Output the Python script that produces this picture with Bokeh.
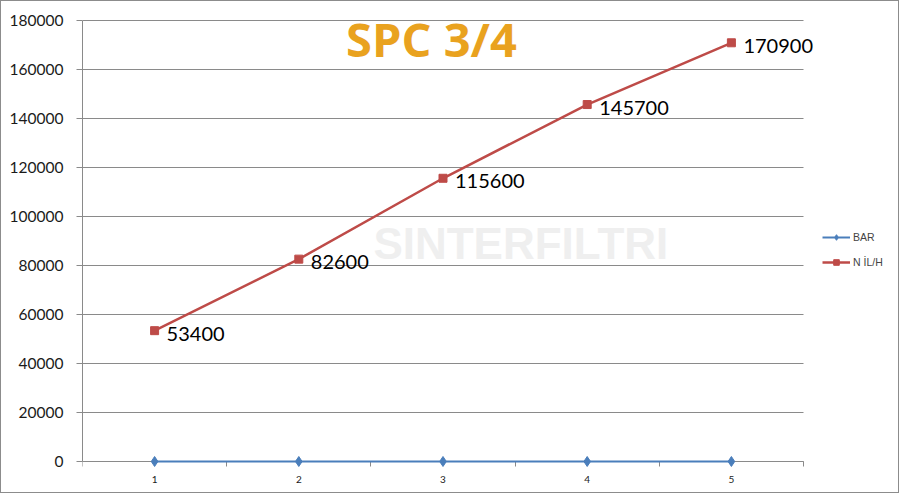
from bokeh.plotting import figure
from bokeh.models import (Legend, LegendItem, Label, FixedTicker,
                          BasicTickFormatter, Range1d, ColumnDataSource)
from bokeh.core.properties import value
from bokeh.embed import file_html
from bokeh.resources import INLINE

# ---- data ----
categories = [1, 2, 3, 4, 5]
bar_values = [1, 2, 3, 4, 5]
nlh_values = [53400, 82600, 115600, 145700, 170900]
y_ticks = [0, 20000, 40000, 60000, 80000, 100000, 120000, 140000, 160000, 180000]
title_text = "SPC 3/4"
series_names = ["BAR", "N İL/H"]

RED = "#BE4B48"
BLUE = "#4A7EBB"
GRID = "#8A8A8A"

# ---- geometry (pixels) ----
W, H = 899, 493
ML, MT, MB, MR = 81, 11, 6, 4
FRAME_W = W - ML - MR
FRAME_H = H - MT - MB
PX_PER_CAT = 144.2
PLOT_H = 441.0           # pixels between 0 and top tick
y_per_px = y_ticks[-1] / PLOT_H
x_lo = categories[0] - 0.5
x_hi = categories[-1] + 0.5
y_top_pad = 8
y_bot_pad = FRAME_H - PLOT_H - y_top_pad

p = figure(width=W, height=H, output_backend="svg", toolbar_location=None,
           x_range=Range1d(x_lo, x_lo + FRAME_W / PX_PER_CAT),
           y_range=Range1d(-y_bot_pad * y_per_px, y_ticks[-1] + y_top_pad * y_per_px),
           min_border_left=ML, min_border_right=MR, min_border_top=MT, min_border_bottom=MB)
p.styles = {"border": "1px solid #8c8c8c"}
p.outline_line_color = None
p.background_fill_color = "white"
p.border_fill_color = "white"
p.xgrid.visible = False
p.ygrid.visible = False

# watermark
p.add_layout(Label(x=3.54, y=89000, text="SINTERFILTRI", text_align="center",
                   text_baseline="middle", text_font="Liberation Sans",
                   text_font_style="bold", text_font_size="44px", text_color="#EFEFEF"))

# horizontal gridlines limited to the category span
p.segment(x0=[x_lo] * len(y_ticks), x1=[x_hi] * len(y_ticks), y0=y_ticks, y1=y_ticks,
          line_color=GRID, line_width=1, level="underlay")

# axes
p.yaxis.ticker = FixedTicker(ticks=y_ticks)
p.yaxis.bounds = (y_ticks[0], y_ticks[-1])
p.yaxis.formatter = BasicTickFormatter(use_scientific=False)
p.yaxis.axis_line_color = GRID
p.yaxis.major_tick_line_color = GRID
p.yaxis.major_tick_in = 0
p.yaxis.major_tick_out = 6
p.yaxis.minor_tick_line_color = None
p.yaxis.major_label_text_font = "Lato"
p.yaxis.major_label_text_font_size = "15.5px"
p.yaxis.major_label_text_color = "#1a1a1a"
p.yaxis.major_label_standoff = 13

p.xaxis.fixed_location = 0
p.xaxis.bounds = (x_lo, x_hi)
p.xaxis.ticker = FixedTicker(ticks=categories,
                             minor_ticks=[c - 0.5 for c in categories] + [x_hi])
p.xaxis.axis_line_color = GRID
p.xaxis.major_tick_line_color = None
p.xaxis.major_tick_in = 0
p.xaxis.major_tick_out = 0
p.xaxis.minor_tick_line_color = GRID
p.xaxis.minor_tick_in = 0
p.xaxis.minor_tick_out = 5
p.xaxis.major_label_text_font = "Lato"
p.xaxis.major_label_text_font_size = "10px"
p.xaxis.major_label_text_color = "#1a1a1a"
p.xaxis.major_label_standoff = 9

src = ColumnDataSource(dict(x=categories, bar=bar_values, nlh=nlh_values,
                            lbl=[str(v) for v in nlh_values]))

l_nlh = p.line("x", "nlh", source=src, line_color=RED, line_width=2.5)
m_nlh = p.scatter("x", "nlh", source=src, marker="square", size=8,
                  fill_color=RED, line_color=RED)
l_bar = p.line("x", "bar", source=src, line_color=BLUE, line_width=2, level="overlay")
m_bar = p.scatter("x", "bar", source=src, marker="diamond", size=10,
                  fill_color=BLUE, line_color=BLUE, level="overlay")

p.text("x", "nlh", text="lbl", source=src, x_offset=12, y_offset=3,
       text_align="left", text_baseline="middle", text_font=value("Lato"),
       text_font_size="20px", text_color="#000000")

# title
p.add_layout(Label(x=2.92, y=172450, text=title_text, text_align="center",
                   text_baseline="middle", text_font="Open Sans",
                   text_font_style="bold", text_font_size="47px", text_color="#E9A21F"))

legend = Legend(items=[LegendItem(label=series_names[0], renderers=[l_bar, m_bar]),
                       LegendItem(label=series_names[1], renderers=[l_nlh, m_nlh])],
                location=(740, 198 + (FRAME_H - 455)), orientation="vertical",
                background_fill_alpha=0, border_line_color=None,
                label_text_font="Liberation Sans", label_text_font_size="10.5px",
                glyph_width=28, glyph_height=14, spacing=11, padding=4, margin=0,
                label_standoff=3)
p.add_layout(legend)

open("out.html", "w").write(file_html(p, INLINE))
